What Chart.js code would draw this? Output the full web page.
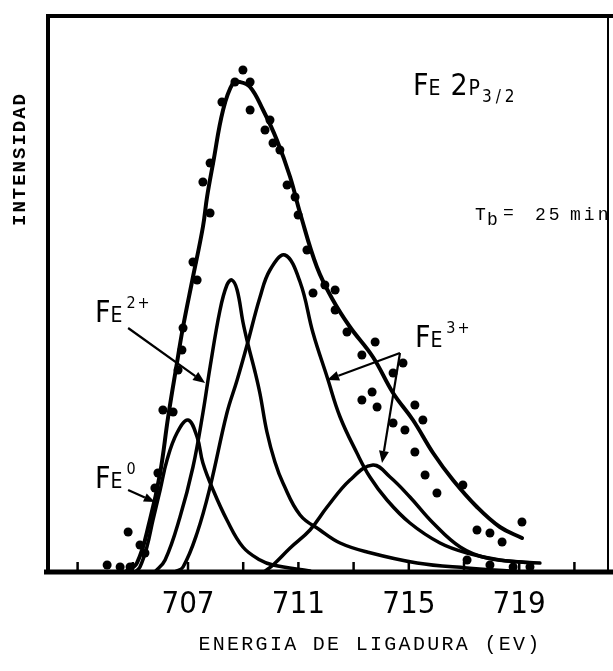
<!DOCTYPE html>
<html><head><meta charset="utf-8">
<script src="https://cdn.jsdelivr.net/npm/chart.js@4/dist/chart.umd.min.js"></script>
<style>html,body{margin:0;padding:0;background:#fff;}canvas{display:block;}</style>
</head><body>
<canvas id="c" width="613" height="671"></canvas>
<script>
// ---- data (binding energy in eV, intensity in arbitrary units) ----
const tickValues  = [703, 705, 707, 709, 711, 713, 715, 717, 719, 721];
const xTickLabels = [707, 711, 715, 719];

const envelopeE = [704.72,705.15,705.62,705.99,706.28,706.60,706.82,707.18,707.54,707.69,707.91,708.27,708.63,708.88,709.25,709.72,710.22,710.70,711.06,711.67,712.25,712.87,713.70,714.43,715.15,715.88,716.60,717.47,718.30,719.10];
const envelopeI = [0,9,52,99,155,209,245,295,345,375,409,462,489,490,485,462,432,395,359,305,272,245,215,179,152,119,92,65,45,34];

const fe0E = [705.08,705.26,705.51,705.73,705.99,706.24,706.60,707.00,707.33,707.54,707.91,708.41,708.99,709.61,710.08,711.42];
const fe0I = [0,5,25,52,82,112,139,152,135,109,82,52,25,12,7,1];

const fe2E = [705.80,706.17,706.71,707.18,707.54,707.80,708.16,708.41,708.59,708.78,708.99,709.17,709.43,709.61,709.86,710.15,710.44,711.06,711.78,712.51,713.49,715.30,717.11,718.67];
const fe2I = [0,12,55,105,159,205,262,287,292,282,250,228,200,178,140,110,89,57,42,29,20,9,4,1];

const fe3E = [706.53,706.82,707.33,707.80,708.41,708.78,709.14,709.61,709.97,710.51,711.06,711.53,712.04,712.51,713.12,713.59,714.21,715.04,716.13,717.11,718.30,719.75];
const fe3I = [0,5,39,85,159,192,227,275,302,317,290,239,195,155,119,95,72,49,29,19,12,9];

const satE = [709.75,710.08,710.70,711.42,712.04,712.87,713.70,714.32,715.04,715.88,716.86,717.83,719.50];
const satI = [0,7,24,42,65,92,107,95,75,49,25,14,9];

const pointsE = [708.99,708.70,709.25,708.23,709.25,709.97,709.79,710.08,710.33,710.59,710.88,707.80,707.54,707.80,707.18,707.33,706.82,706.78,706.64,706.09,706.46,705.91,705.80,704.83,705.26,705.44,704.07,704.54,704.90,710.99,711.31,711.53,711.96,712.33,712.33,712.76,713.78,713.30,714.79,714.43,713.67,713.30,713.85,715.22,715.51,714.43,714.86,715.22,715.59,716.02,716.96,719.10,717.47,717.94,718.38,717.11,717.94,718.78,719.39];
const pointsI = [502,490,490,470,462,452,442,429,422,387,375,409,390,359,310,292,244,222,202,162,160,99,84,40,27,19,7,5,5,357,322,279,287,282,262,240,230,217,209,199,180,172,165,167,152,149,142,120,97,79,87,50,42,39,30,12,7,5,5];

const xMin = 701.855, xMax = 722.217, yMax = 557;

// ---- helpers ----
const zip = (xs, ys) => xs.map((v, i) => ({x: v, y: ys[i]}));
const NARROW = '"Liberation Sans Narrow","DejaVu Sans Condensed","Arial Narrow",sans-serif';
const MONO = '"Liberation Mono","DejaVu Sans Mono",monospace';

function curve(xs, ys, w) {
  return {type: 'line', data: zip(xs, ys), borderColor: '#000', borderWidth: w,
          pointRadius: 0, fill: false, tension: 0.4, borderJoinStyle: 'round', borderCapStyle: 'round'};
}

function arrow(ctx, x1, y1, x2, y2, head, half) {
  const ang = Math.atan2(y2 - y1, x2 - x1);
  const bx = x2 - head * Math.cos(ang), by = y2 - head * Math.sin(ang);
  ctx.beginPath(); ctx.moveTo(x1, y1); ctx.lineTo(bx, by); ctx.stroke();
  ctx.beginPath(); ctx.moveTo(x2, y2);
  ctx.lineTo(bx + half * Math.sin(ang), by - half * Math.cos(ang));
  ctx.lineTo(bx - half * Math.sin(ang), by + half * Math.cos(ang));
  ctx.closePath(); ctx.fill();
}

function feLabel(ctx, px, py, sup) {
  ctx.textAlign = 'left'; ctx.textBaseline = 'alphabetic';
  ctx.font = '30px ' + NARROW; ctx.fillText('F', px, py);
  let w = ctx.measureText('F').width;
  ctx.font = '21px ' + NARROW; ctx.fillText('E', px + w, py);
  w += ctx.measureText('E').width;
  ctx.font = '16px ' + NARROW; ctx.letterSpacing = '2px';
  ctx.fillText(sup, px + w + 4, py - 14);
  ctx.letterSpacing = '0px';
}

const decor = {
  id: 'decor',
  afterDatasetsDraw(chart) {
    const {ctx, chartArea: a, scales: {x, y}} = chart;
    const X = v => x.getPixelForValue(v), Y = v => y.getPixelForValue(v);
    ctx.save();
    ctx.strokeStyle = '#000'; ctx.fillStyle = '#000';
    // frame
    ctx.lineWidth = 4;
    ctx.beginPath(); ctx.moveTo(a.left + 2, a.bottom); ctx.lineTo(a.left + 2, a.top); ctx.stroke();
    ctx.beginPath(); ctx.moveTo(a.left, a.top + 1); ctx.lineTo(chart.width, a.top + 1); ctx.stroke();
    ctx.lineWidth = 5;
    ctx.beginPath(); ctx.moveTo(a.left - 2, a.bottom); ctx.lineTo(chart.width, a.bottom); ctx.stroke();
    ctx.lineWidth = 2;
    ctx.beginPath(); ctx.moveTo(a.right, a.top); ctx.lineTo(a.right, a.bottom); ctx.stroke();
    // inward tick marks
    ctx.lineWidth = 2.5;
    tickValues.forEach(v => {
      const px = X(v);
      ctx.beginPath(); ctx.moveTo(px, a.bottom); ctx.lineTo(px, a.bottom - 10); ctx.stroke();
    });

    // annotation labels
    feLabel(ctx, X(703.63), Y(250), '2+');
    feLabel(ctx, X(703.63), Y(84), '0');
    feLabel(ctx, X(715.22), Y(225), '3+');

    ctx.lineWidth = 2.2;
    arrow(ctx, X(704.83), Y(244), X(707.62), Y(189), 12, 5);
    arrow(ctx, X(704.83), Y(82), X(705.80), Y(70), 11, 4.5);
    arrow(ctx, X(714.68), Y(219), X(712.04), Y(192), 12, 5);
    arrow(ctx, X(714.68), Y(219), X(714.03), Y(109), 12, 5);

    // FE 2P3/2
    let px = X(715.15), py = Y(477);
    ctx.font = '30px ' + NARROW; ctx.fillText('F', px, py); px += ctx.measureText('F').width;
    ctx.font = '21px ' + NARROW; ctx.fillText('E', px, py); px += ctx.measureText('E').width + 10;
    ctx.font = '30px ' + NARROW; ctx.fillText('2', px, py); px += ctx.measureText('2').width + 1;
    ctx.font = '21px ' + NARROW; ctx.fillText('P', px, py); px += ctx.measureText('P').width + 2;
    ctx.font = '17px ' + NARROW; ctx.letterSpacing = '4px'; ctx.fillText('3/2', px, py + 7);
    ctx.letterSpacing = '0px';

    // Tb = 25 min (clipped by frame)
    ctx.save();
    ctx.beginPath(); ctx.rect(0, 0, a.right - 1, chart.height); ctx.clip();
    px = X(717.40); py = Y(352);
    ctx.font = '18px ' + MONO; ctx.letterSpacing = '3px';
    ctx.fillText('T', px, py);
    ctx.fillText('b', px + 12, py + 5);
    ctx.fillText('=', px + 28, py - 2);
    ctx.fillText('25', px + 60, py);
    ctx.fillText('min', px + 95, py);
    ctx.restore();
    ctx.letterSpacing = '0px';

    // axis titles
    ctx.font = 'bold 19px ' + MONO; ctx.letterSpacing = '2px';
    ctx.textAlign = 'center'; ctx.textBaseline = 'middle';
    ctx.save(); ctx.translate(20, 159); ctx.rotate(-Math.PI / 2);
    ctx.fillText('INTENSIDAD', 0, 0); ctx.restore();
    ctx.font = '20px ' + MONO; ctx.letterSpacing = '2.3px';
    ctx.fillText('ENERGIA DE LIGADURA (EV)', 370, 645);
    ctx.restore();
  }
};

new Chart(document.getElementById('c'), {
  data: {
    datasets: [
      curve(envelopeE, envelopeI, 4),
      curve(fe0E, fe0I, 3.5),
      curve(fe2E, fe2I, 3.5),
      curve(fe3E, fe3I, 3.5),
      curve(satE, satI, 3.5),
      {type: 'scatter', data: zip(pointsE, pointsI), pointRadius: 4.5,
       pointBackgroundColor: '#000', pointBorderColor: '#000', pointBorderWidth: 0, showLine: false}
    ]
  },
  options: {
    responsive: false, animation: false, devicePixelRatio: 1,
    layout: {padding: {left: 46, top: 15, right: 5, bottom: 0}},
    plugins: {legend: {display: false}, tooltip: {enabled: false}},
    scales: {
      x: {
        type: 'linear', min: xMin, max: xMax, position: 'bottom',
        grid: {display: false, drawTicks: false},
        border: {display: false},
        afterBuildTicks: s => { s.ticks = tickValues.map(v => ({value: v})); },
        afterFit: s => { s.height = 99; },
        ticks: {
          color: '#000', padding: 14, maxRotation: 0, autoSkip: false,
          font: {family: NARROW, size: 31},
          callback: v => xTickLabels.includes(v) ? String(v) : ''
        }
      },
      y: {display: false, min: 0, max: yMax}
    }
  },
  plugins: [decor]
});
</script>
</body></html>
